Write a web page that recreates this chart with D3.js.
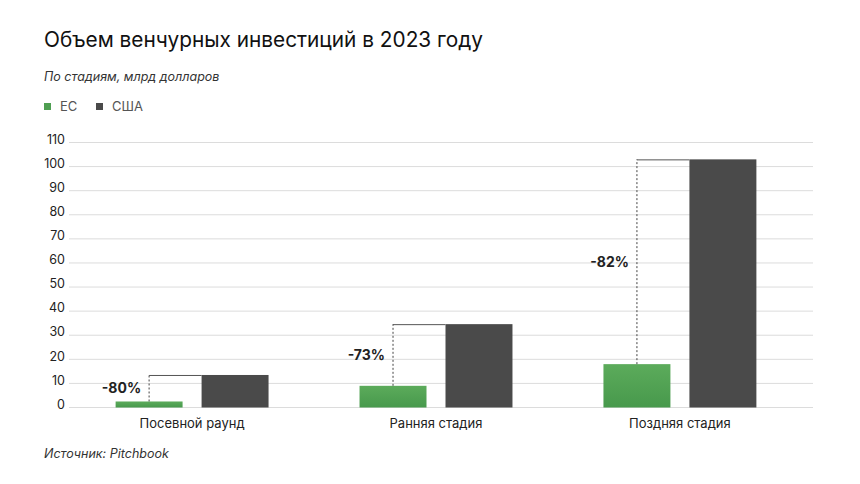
<!DOCTYPE html>
<html>
<head>
<meta charset="utf-8">
<script src="https://cdn.jsdelivr.net/npm/d3@7"></script>
<style>
  body { margin: 0; background: #fff; }
  svg { font-family: Inter, "Noto Sans", sans-serif; }
</style>
</head>
<body>
<script>
// data
var stages = ["Посевной раунд", "Ранняя стадия", "Поздняя стадия"];
var seriesNames = ["ЕС", "США"];
var euValues = [2.5, 9, 18];
var usValues = [13.5, 34.6, 103];
var diffLabels = ["-80%", "-73%", "-82%"];
var yTicks = [0, 10, 20, 30, 40, 50, 60, 70, 80, 90, 100, 110];

var colors = { "ЕС": "url(#greenGrad)", "США": "#4a4a4a" };
var legendColors = ["#4f9f52", "#4a4a4a"];

var width = 860, height = 484;

var svg = d3.select("body").append("svg")
    .attr("width", width)
    .attr("height", height);

var grad = svg.append("defs").append("linearGradient")
    .attr("id", "greenGrad")
    .attr("x1", 0).attr("y1", 0).attr("x2", 0).attr("y2", 1);
grad.append("stop").attr("offset", "0%").attr("stop-color", "#5cab5b");
grad.append("stop").attr("offset", "100%").attr("stop-color", "#47994c");

// title block
svg.append("text")
    .attr("x", 44).attr("y", 47)
    .style("font-size", "20.8px")
    .style("fill", "#111")
    .text("Объем венчурных инвестиций в 2023 году");

svg.append("text")
    .attr("x", 44).attr("y", 81)
    .style("font-size", "12.5px")
    .style("font-style", "italic")
    .style("fill", "#333")
    .text("По стадиям, млрд долларов");

// legend
var legend = svg.append("g").attr("transform", "translate(44,103)");
var legendX = [0, 52];
seriesNames.forEach(function (name, i) {
    var g = legend.append("g").attr("transform", "translate(" + legendX[i] + ",0)");
    g.append("rect").attr("width", 7).attr("height", 7).attr("fill", legendColors[i]);
    g.append("text")
        .attr("x", 16).attr("y", 8)
        .style("font-size", "13px")
        .style("fill", "#555")
        .text(name);
});

// scales
var y = d3.scaleLinear().domain([0, 110]).range([407.5, 142.5]);

var x0 = d3.scaleBand()
    .domain(stages)
    .range([70, 802])
    .paddingInner(0.373)
    .paddingOuter(0.187);

var x1 = d3.scaleBand()
    .domain(seriesNames)
    .range([0, x0.bandwidth()])
    .paddingInner(0.221);

// grid + y axis labels
var grid = svg.append("g");
grid.selectAll("line")
    .data(yTicks)
    .enter().append("line")
    .attr("x1", 69).attr("x2", 813)
    .attr("y1", function (d) { return y(d); })
    .attr("y2", function (d) { return y(d); })
    .attr("stroke", "#dcdcdc")
    .attr("stroke-width", 1);

grid.selectAll("text")
    .data(yTicks)
    .enter().append("text")
    .attr("x", 65)
    .attr("y", function (d) { return y(d); })
    .attr("dy", "0.1em")
    .attr("text-anchor", "end")
    .style("font-size", "12.5px")
    .style("fill", "#222")
    .text(function (d) { return d; });

// bars
var rows = stages.map(function (s, i) {
    return { stage: s, "ЕС": euValues[i], "США": usValues[i], label: diffLabels[i] };
});

var groups = svg.selectAll(".group")
    .data(rows)
    .enter().append("g")
    .attr("class", "group")
    .attr("transform", function (d) { return "translate(" + x0(d.stage) + ",0)"; });

groups.selectAll("rect")
    .data(function (d) { return seriesNames.map(function (k) { return { key: k, value: d[k] }; }); })
    .enter().append("rect")
    .attr("x", function (d) { return x1(d.key); })
    .attr("width", x1.bandwidth())
    .attr("y", function (d) { return y(d.value); })
    .attr("height", function (d) { return y(0) - y(d.value); })
    .attr("fill", function (d) { return colors[d.key]; });

// difference markers
groups.each(function (d) {
    var g = d3.select(this);
    var cx = x1("ЕС") + x1.bandwidth() / 2;
    var usLeft = x1("США");
    g.append("line")
        .attr("x1", cx).attr("x2", cx)
        .attr("y1", y(d["ЕС"])).attr("y2", y(d["США"]))
        .attr("stroke", "#444")
        .attr("stroke-width", 1)
        .attr("stroke-dasharray", "2,2");
    g.append("line")
        .attr("x1", cx).attr("x2", usLeft)
        .attr("y1", y(d["США"]) + 0.5).attr("y2", y(d["США"]) + 0.5)
        .attr("stroke", "#555")
        .attr("stroke-width", 1);
    g.append("text")
        .attr("x", cx - 8)
        .attr("y", (y(d["ЕС"]) + y(d["США"])) / 2)
        .attr("dy", "0.35em")
        .attr("text-anchor", "end")
        .style("font-size", "14px")
        .style("font-weight", "bold")
        .style("fill", "#222")
        .text(d.label);
});

// category labels
svg.selectAll(".cat")
    .data(stages)
    .enter().append("text")
    .attr("class", "cat")
    .attr("x", function (d) { return x0(d) + x0.bandwidth() / 2; })
    .attr("y", 428)
    .attr("text-anchor", "middle")
    .style("font-size", "13px")
    .style("fill", "#222")
    .text(function (d) { return d; });

svg.append("text")
    .attr("x", 44).attr("y", 458)
    .style("font-size", "12.5px")
    .style("font-style", "italic")
    .style("fill", "#333")
    .text("Источник: Pitchbook");
</script>
</body>
</html>
